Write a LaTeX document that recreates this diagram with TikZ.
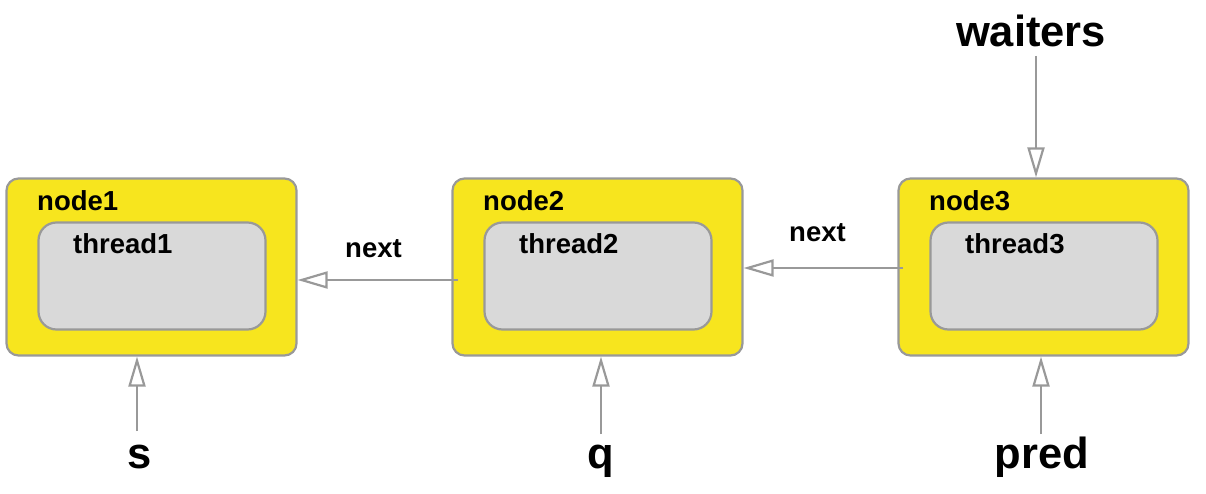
\documentclass[tikz,border=0pt]{standalone}
\usepackage{fontspec}
\setmainfont{Liberation Sans}
\usetikzlibrary{arrows.meta}
\definecolor{boxyellow}{HTML}{F7E51E}
\definecolor{edgegray}{HTML}{999999}
\definecolor{innergray}{HTML}{D9D9D9}
\begin{document}
\begin{tikzpicture}[x=1pt,y=-1pt,
  outerbox/.style={draw=edgegray,fill=boxyellow,line width=2.2pt,rounded corners=12pt,minimum width=290pt,minimum height=177pt,inner sep=0pt},
  innerbox/.style={draw=edgegray,fill=innergray,line width=2.2pt,rounded corners=18pt,minimum width=227pt,minimum height=107pt,inner sep=0pt},
  smalltxt/.style={font=\fontsize{27.5}{32}\selectfont\bfseries,inner sep=0pt,anchor=base west},
  bigtxt/.style={font=\fontsize{43.5}{48}\selectfont\bfseries,inner sep=0pt,anchor=base},
  ptr/.style={draw=edgegray,line width=2.4pt,-{Triangle[open,length=30pt,width=17pt,line width=2.2pt]}}
]
\useasboundingbox (0,0) rectangle (1206,494);
% node boxes
\foreach \i/\cx in {1/151.5,2/597.5,3/1043.5}{
  \node[outerbox] (o\i) at (\cx,267) {};
}
\node[innerbox] (in1) at (152,276) {};
\node[innerbox] (in2) at (598,276) {};
\node[innerbox] (in3) at (1044,276) {};
% labels
\node[smalltxt] (l1) at (37,211) {node1};
\node[smalltxt] (l2) at (483,211) {node2};
\node[smalltxt] (l3) at (929,211) {node3};
\node[smalltxt] (t1) at (73,254) {thread1};
\node[smalltxt] (t2) at (519,254) {thread2};
\node[smalltxt] (t3) at (965,254) {thread3};
\node[smalltxt] (n1) at (345,258) {next};
\node[smalltxt] (n2) at (789,242) {next};
% big labels
\node[bigtxt] (waiters) at (1031,47) {waiters};
\node[bigtxt] (s) at (140,468) {s};
\node[bigtxt] (q) at (601,468) {q};
\node[bigtxt] (pred) at (1042,468) {pred};
% connectors
\coordinate (a2) at (458,280);
\coordinate (a3) at (903,268);
\coordinate (wt) at (1036,56);
\coordinate (sb) at (137,431);
\coordinate (qb) at (601,434);
\coordinate (pb) at (1041,434);
\draw[ptr] (a2) -- (o1.east |- a2);
\draw[ptr] (a3) -- (o2.east |- a3);
\draw[ptr] (wt) -- (wt |- o3.north);
\draw[ptr] (sb) -- (sb |- o1.south);
\draw[ptr] (qb) -- (qb |- o2.south);
\draw[ptr] (pb) -- (pb |- o3.south);
\end{tikzpicture}
\end{document}
